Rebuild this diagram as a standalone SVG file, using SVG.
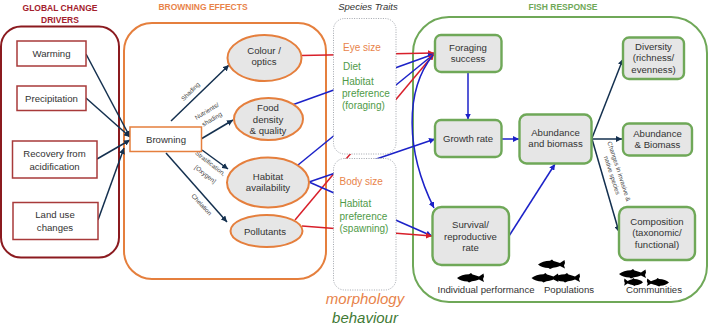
<svg xmlns="http://www.w3.org/2000/svg" xmlns:xlink="http://www.w3.org/1999/xlink" width="709" height="327" viewBox="0 0 709 327">
  <style>
    text { font-family: "Liberation Sans", Arial, sans-serif; }
    .lbl { font-size: 9.6px; fill: #333; text-anchor: middle; }
    .sm { font-size: 6.3px; fill: #444; text-anchor: middle; }
    .head { font-size: 8.5px; font-weight: bold; text-anchor: middle; }
    .trait { font-size: 10px; }
    .or { fill: #e8834a; }
    .gr { fill: #4f9a48; }
    .drv { fill: #fff; stroke: #a83a3a; stroke-width: 1.500; }
    .eff { fill: #e6e6e6; stroke: #e57f3d; stroke-width: 2; }
    .fish { fill: #e6e6e6; stroke: #6fa858; stroke-width: 2.400; }
    .panel { fill: none; }
    .tbox { fill: #fff; stroke: #8a8f98; stroke-width: .8; stroke-dasharray: 1 1.4; }
    .c { fill: none; stroke-width: 1.500; }
    .navy { stroke: #14304f; marker-end: url(#aNavy); }
    .blue { stroke: #1c22c8; marker-end: url(#aBlue); }
    .red { stroke: #d81f2a; marker-end: url(#aRed); }
  </style>
  <defs>
    <marker id="aNavy" markerUnits="userSpaceOnUse" markerWidth="7" markerHeight="6" refX="6" refY="3" orient="auto"><path d="M0 0L6 3L0 6z" fill="#14304f"/></marker>
    <marker id="aBlue" markerUnits="userSpaceOnUse" markerWidth="7" markerHeight="6" refX="6" refY="3" orient="auto"><path d="M0 0L6 3L0 6z" fill="#1c22c8"/></marker>
    <marker id="aRed" markerUnits="userSpaceOnUse" markerWidth="7" markerHeight="6" refX="6" refY="3" orient="auto"><path d="M0 0L6 3L0 6z" fill="#d81f2a"/></marker>
    <path id="fishShape" d="M0 5C3 2.5 7 1.500 12 1.200L14 0L15.500 1.500C18 2 20 3 22 3.500L26.500 0.500L27 3.500L26 6L27 9L22 6.500C19 7.500 17 8 15 8.200L12 9.500L10.500 8.500C6 8.500 2.500 7 0 5z" fill="#000"/>
  </defs>

  <g id="panels">
    <rect class="panel" x="1" y="26.500" width="118" height="231" rx="20" stroke="#8b1a1f" stroke-width="2"/>
    <rect class="panel" x="124" y="23" width="202" height="256" rx="28" stroke="#e57f3d" stroke-width="2"/>
    <rect class="panel" x="413" y="17" width="294" height="285" rx="36" stroke="#6fa858" stroke-width="2"/>
  </g>

  <g id="connectors">
    <path class="c navy" d="M86 54L130 137"/>
    <path class="c navy" d="M86 98L130 137"/>
    <path class="c navy" d="M97 159L130 140"/>
    <path class="c navy" d="M98 220L124 148"/>
    <path class="c navy" d="M171 121L229 65"/>
    <path class="c navy" d="M201 139L233 120"/>
    <path class="c navy" d="M202 150L228 169"/>
    <path class="c navy" d="M166 153L227 222"/>
    <path class="c red" d="M301 55.500L434 53"/>
    <path class="c blue" d="M292 105L434 54"/>
    <path class="c blue" d="M298 165L434 54"/>
    <path class="c red" d="M295 220L434 54"/>
    <path class="c blue" d="M309 182L435 139"/>
    <path class="c blue" d="M309 182L432 236"/>
    <path class="c red" d="M302 226L432 236"/>
    <path class="c blue" d="M433 55C405 90 405 150 434 208"/>
    <path class="c blue" d="M468 72L468 119.500"/>
    <path class="c blue" d="M501 139L519 139"/>
    <path class="c blue" d="M509 236L555 164"/>
    <path class="c navy" d="M592 138L623 59"/>
    <path class="c navy" d="M592 139L622 139"/>
    <path class="c navy" d="M592 139L619 232"/>
  </g>

  <g id="edge-labels">
    <text class="sm" transform="translate(192 93) rotate(-45)">Shading</text>
    <text class="sm" transform="translate(208 113) rotate(-31)">Nutrients/</text>
    <text class="sm" transform="translate(213 121) rotate(-31)">shading</text>
    <text class="sm" transform="translate(209 165) rotate(38)">Stratification,</text>
    <text class="sm" transform="translate(204 176) rotate(38)">[Oxygen]</text>
    <text class="sm" transform="translate(200 206) rotate(47)">Chelation</text>
    <text class="sm" transform="translate(617 172) rotate(72)">Changes in invasive &amp;</text>
    <text class="sm" transform="translate(610 176) rotate(72)">native species</text>
  </g>

  <text class="head" x="60" y="11" fill="#a3202c">GLOBAL CHANGE</text>
  <text class="head" x="60" y="22.500" fill="#a3202c">DRIVERS</text>
  <text class="head" x="203" y="9.500" fill="#e8834a">BROWNING EFFECTS</text>
  <text class="head" x="563" y="9.500" fill="#6fa858">FISH RESPONSE</text>
  <text x="368" y="9.500" font-size="9.500" font-style="italic" fill="#333" text-anchor="middle">Species Traits</text>

  <g id="warming"><rect class="drv" x="17" y="41" width="69" height="25"/><text class="lbl" x="51.500" y="56.500">Warming</text></g>
  <g id="precipitation"><rect class="drv" x="17" y="86" width="69" height="24.500"/><text class="lbl" x="51.500" y="101.500">Precipitation</text></g>
  <g id="recovery"><rect class="drv" x="12.500" y="141" width="84.500" height="37"/><text class="lbl" x="54.500" y="157">Recovery from</text><text class="lbl" x="54.500" y="169.500">acidification</text></g>
  <g id="land-use"><rect class="drv" x="13" y="202.500" width="85" height="37"/><text class="lbl" x="55" y="218">Land use</text><text class="lbl" x="55" y="230.500">changes</text></g>

  <g id="browning"><rect x="130" y="127" width="71.500" height="24.500" fill="#fff" stroke="#e57f3d" stroke-width="1.500"/><text class="lbl" x="166" y="142.500">Browning</text></g>
  <g id="colour"><ellipse class="eff" cx="264.500" cy="58" rx="37" ry="23"/><text class="lbl" x="264" y="54">Colour /</text><text class="lbl" x="264" y="65">optics</text></g>
  <g id="food"><ellipse class="eff" cx="268.500" cy="119" rx="34.500" ry="21"/><text class="lbl" x="268" y="111">Food</text><text class="lbl" x="268" y="122.500">density</text><text class="lbl" x="268" y="134">&amp; quality</text></g>
  <g id="habitat"><ellipse class="eff" cx="268" cy="182.500" rx="41" ry="25"/><text class="lbl" x="268" y="180">Habitat</text><text class="lbl" x="268" y="191">availability</text></g>
  <g id="pollutants"><ellipse class="eff" cx="266.500" cy="231" rx="36" ry="16"/><text class="lbl" x="265" y="235">Pollutants</text></g>

  <g id="traits-foraging">
    <rect class="tbox" x="333.500" y="18.500" width="62.500" height="135.500" rx="11"/>
    <text class="trait or" x="343" y="51">Eye size</text>
    <text class="trait gr" x="343" y="70">Diet</text>
    <text class="trait gr" x="342" y="85">Habitat</text>
    <text class="trait gr" x="342" y="97">preference</text>
    <text class="trait gr" x="342" y="109">(foraging)</text>
  </g>
  <g id="traits-spawning">
    <rect class="tbox" x="333.500" y="158.500" width="62.500" height="131.500" rx="11"/>
    <text class="trait or" x="339.500" y="185">Body size</text>
    <text class="trait gr" x="339.500" y="207">Habitat</text>
    <text class="trait gr" x="339.500" y="220">preference</text>
    <text class="trait gr" x="339.500" y="232">(spawning)</text>
  </g>
  <text x="365" y="304" font-size="15" font-style="italic" fill="#e8834a" text-anchor="middle">morphology</text>
  <text x="365" y="322.500" font-size="15" font-style="italic" fill="#3f7a35" text-anchor="middle">behaviour</text>

  <g id="foraging"><rect class="fish" x="435" y="35" width="66.500" height="37" rx="6"/><text class="lbl" x="468" y="51">Foraging</text><text class="lbl" x="468" y="62">success</text></g>
  <g id="growth"><rect class="fish" x="435" y="120" width="66.500" height="37" rx="6"/><text class="lbl" x="468" y="142">Growth rate</text></g>
  <g id="survival"><rect class="fish" x="432.500" y="207" width="76.500" height="58" rx="9"/><text class="lbl" x="470.500" y="228">Survival/</text><text class="lbl" x="470.500" y="239.500">reproductive</text><text class="lbl" x="470.500" y="250.500">rate</text></g>
  <g id="abundance"><rect class="fish" x="519.500" y="114.500" width="72" height="49" rx="7"/><text class="lbl" x="555.500" y="136">Abundance</text><text class="lbl" x="555.500" y="147">and biomass</text></g>
  <g id="diversity"><rect class="fish" x="623" y="37.500" width="61" height="41.500" rx="6"/><text class="lbl" x="653.500" y="50">Diversity</text><text class="lbl" x="653.500" y="61">(richness/</text><text class="lbl" x="653.500" y="72.500">evenness)</text></g>
  <g id="abundance-biomass"><rect class="fish" x="623" y="123.500" width="69" height="32" rx="6"/><text class="lbl" x="657.500" y="137">Abundance</text><text class="lbl" x="657.500" y="148">&amp; Biomass</text></g>
  <g id="composition"><rect class="fish" x="619" y="207" width="76" height="53" rx="8"/><text class="lbl" x="657" y="225">Composition</text><text class="lbl" x="657" y="236">(taxonomic/</text><text class="lbl" x="657" y="247.500">functional)</text></g>

  <g id="fish-icons">
    <use xlink:href="#fishShape" href="#fishShape" transform="translate(457 273)"/>
    <use xlink:href="#fishShape" href="#fishShape" transform="translate(538 259.500)"/>
    <use xlink:href="#fishShape" href="#fishShape" transform="translate(531.500 273)"/>
    <use xlink:href="#fishShape" href="#fishShape" transform="translate(553 273)"/>
    <use xlink:href="#fishShape" href="#fishShape" transform="translate(619 269)"/>
    <use xlink:href="#fishShape" href="#fishShape" transform="translate(643 278) scale(-.7 .85)"/>
    <use xlink:href="#fishShape" href="#fishShape" transform="translate(669 278) scale(-.82 .9)"/>
  </g>
  <text class="lbl" x="486" y="292.500">Individual performance</text>
  <text class="lbl" x="569" y="292.500">Populations</text>
  <text class="lbl" x="654" y="292.500">Communities</text>
</svg>
